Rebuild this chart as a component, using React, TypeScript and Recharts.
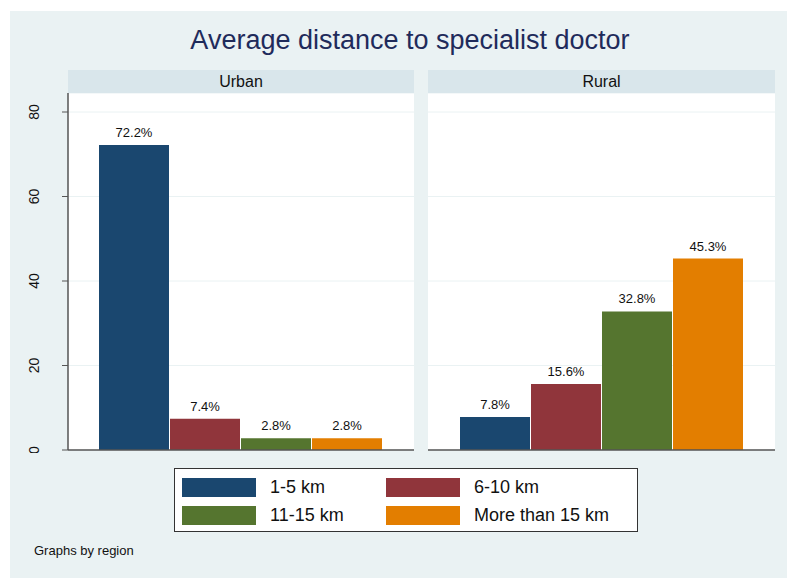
import React from "react";
import { BarChart, Bar, XAxis, YAxis, CartesianGrid, LabelList } from "recharts";

const distanceBands = ["1-5 km", "6-10 km", "11-15 km", "More than 15 km"];
const urbanShares = [72.2, 7.4, 2.8, 2.8];
const ruralShares = [7.8, 15.6, 32.8, 45.3];
const yTicks = [0, 20, 40, 60, 80];

const BAND_COLORS = ["#1A476F", "#90353B", "#55752F", "#E37E00"];
const FONT = '"Liberation Sans", Arial, Helvetica, sans-serif';
const PAGE_BG = "#EAF2F3";
const STRIP_BG = "#D9E6EB";
const AXIS = "#555555";

const toRow = (region: string, values: number[]) => {
  const row: Record<string, string | number> = { region };
  values.forEach((v, i) => {
    row[`band_${i}`] = v;
  });
  return row;
};

const RotatedTick = (props: any) => {
  const { x, y, payload } = props;
  return (
    <text
      x={x - 21}
      y={y}
      transform={`rotate(-90, ${x - 21}, ${y})`}
      textAnchor="middle"
      fontSize={14}
      fontFamily={FONT}
      fill="#111"
    >
      {payload.value}
    </text>
  );
};

interface PanelProps {
  region: string;
  values: number[];
  withAxis: boolean;
  left: number;
  width: number;
  gap: number;
}

function Panel({ region, values, withAxis, left, width, gap }: PanelProps) {
  const axisWidth = withAxis ? 68 : 0;
  const stripLeft = left + axisWidth;
  const plotWidth = width - axisWidth - (withAxis ? 6 : 0);
  return (
    <>
      <div
        style={{
          position: "absolute",
          left: stripLeft,
          top: 70,
          width: plotWidth,
          height: 23,
          background: STRIP_BG,
          fontSize: 16,
          lineHeight: "23px",
          textAlign: "center",
          color: "#111",
        }}
      >
        {region}
      </div>
      <div style={{ position: "absolute", left, top: 93 }}>
        <BarChart
          width={width}
          height={360}
          data={[toRow(region, values)]}
          margin={{ top: 0, right: withAxis ? 6 : 0, left: 0, bottom: 0 }}
          barCategoryGap={gap}
          barGap={1}
        >
          <CartesianGrid vertical={false} stroke={PAGE_BG} fill="#FFFFFF" />
          <XAxis
            dataKey="region"
            height={3}
            tick={false}
            tickLine={false}
            axisLine={{ stroke: AXIS, strokeWidth: 1.5 }}
          />
          <YAxis
            domain={[0, 84.5]}
            ticks={yTicks}
            interval={0}
            hide={!withAxis}
            width={axisWidth}
            tick={<RotatedTick />}
            tickSize={6}
            tickLine={{ stroke: AXIS }}
            axisLine={{ stroke: AXIS, strokeWidth: 1.5 }}
          />
          {distanceBands.map((band, i) => (
            <Bar
              key={band}
              dataKey={`band_${i}`}
              name={band}
              fill={BAND_COLORS[i]}
              isAnimationActive={false}
            >
              <LabelList
                dataKey={`band_${i}`}
                position="top"
                offset={8}
                formatter={(v: any) => `${v}%`}
                style={{ fontSize: 13, fontFamily: FONT, fill: "#111" }}
              />
            </Bar>
          ))}
        </BarChart>
      </div>
    </>
  );
}

export default function App() {
  return (
    <div
      style={{
        position: "absolute",
        left: 0,
        top: 0,
        width: 787,
        height: 579,
        background: "#FFFFFF",
        fontFamily: FONT,
      }}
    >
      <div
        style={{
          position: "absolute",
          left: 10,
          top: 11,
          width: 777,
          height: 567,
          background: PAGE_BG,
        }}
      />
      <div
        style={{
          position: "absolute",
          left: 0,
          top: 25,
          width: 820,
          textAlign: "center",
          fontSize: 27,
          color: "#1F2B5B",
        }}
      >
        Average distance to specialist doctor
      </div>
      <Panel region="Urban" values={urbanShares} withAxis left={0} width={420} gap={31} />
      <Panel region="Rural" values={ruralShares} withAxis={false} left={428} width={347} gap={32} />
      <div
        style={{
          position: "absolute",
          left: 174,
          top: 468,
          width: 462,
          height: 62,
          background: "#FFFFFF",
          border: "1px solid #333",
        }}
      >
        {distanceBands.map((band, i) => (
          <div
            key={band}
            style={{
              position: "absolute",
              left: i % 2 === 0 ? 7 : 211,
              top: i < 2 ? 8 : 36,
              display: "flex",
              alignItems: "center",
              height: 20,
            }}
          >
            <div style={{ width: 74, height: 19, background: BAND_COLORS[i] }} />
            <span style={{ marginLeft: 14, fontSize: 18, color: "#111" }}>{band}</span>
          </div>
        ))}
      </div>
      <div
        style={{
          position: "absolute",
          left: 34,
          top: 543,
          fontSize: 13,
          color: "#111",
        }}
      >
        Graphs by region
      </div>
    </div>
  );
}
